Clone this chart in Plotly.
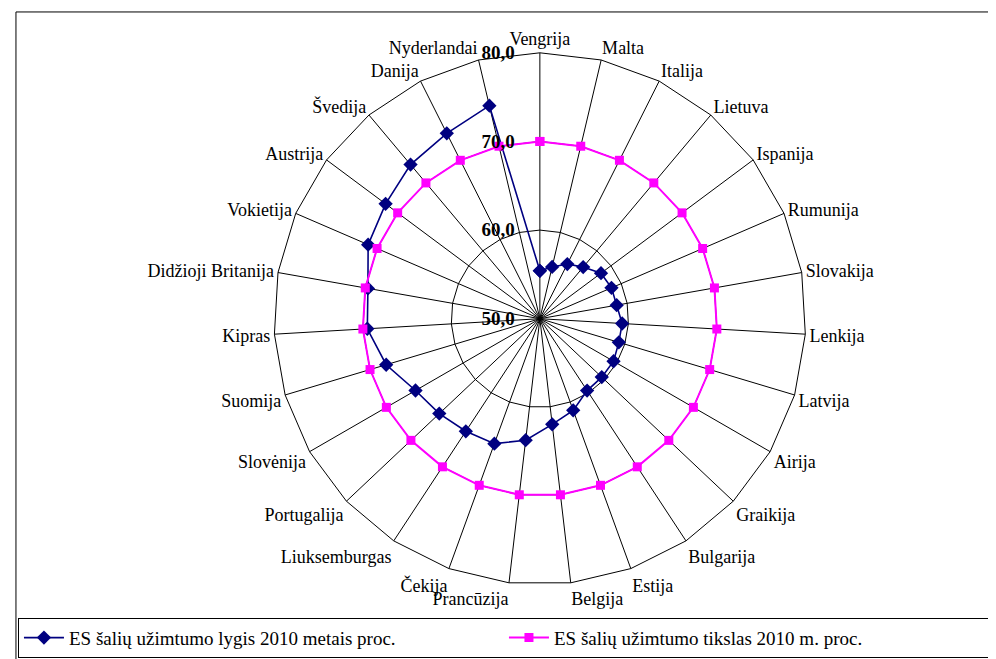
import plotly.graph_objects as go

# countries, clockwise from the top
countries = [
    "Vengrija", "Malta", "Italija", "Lietuva", "Ispanija", "Rumunija", "Slovakija",
    "Lenkija", "Latvija", "Airija", "Graikija", "Bulgarija", "Estija", "Belgija",
    "Prancūzija", "Čekija", "Liuksemburgas", "Portugalija", "Slovėnija", "Suomija",
    "Kipras", "Didžioji Britanija", "Vokietija", "Austrija", "Švedija", "Danija",
    "Nyderlandai",
]

# employment rate 2010, %
lygis_2010 = [
    55.4, 56.0, 56.9, 57.6, 58.6, 58.8, 58.8, 59.3, 59.3, 59.6, 59.6, 59.7, 61.0,
    62.0, 63.8, 65.0, 65.2, 65.6, 66.2, 68.1, 69.5, 69.7, 71.1, 71.7, 72.7, 73.4,
    74.7,
]

# employment target 2010, %
tikslas_2010 = [70.0] * len(countries)

radial_ticks = [50, 60, 70, 80]
radial_labels = ["50,0", "60,0", "70,0", "80,0"]

serif = "Liberation Serif"

fig = go.Figure()

# close the loops by repeating the first country
fig.add_trace(go.Scatterpolar(
    r=lygis_2010 + lygis_2010[:1],
    theta=countries + countries[:1],
    mode="lines+markers",
    name="ES šalių užimtumo lygis 2010 metais proc.",
    line=dict(color="#000080", width=1.6),
    marker=dict(symbol="diamond", size=11, color="#000080"),
))
fig.add_trace(go.Scatterpolar(
    r=tikslas_2010 + tikslas_2010[:1],
    theta=countries + countries[:1],
    mode="lines+markers",
    name="ES šalių užimtumo tikslas 2010 m. proc.",
    line=dict(color="#FF00FF", width=2),
    marker=dict(symbol="square", size=9, color="#FF00FF"),
))

fig.update_layout(
    width=996,
    height=659,
    margin=dict(l=0, r=0, t=0, b=0),
    paper_bgcolor="white",
    font=dict(family=serif, size=19, color="black"),
    polar=dict(
        domain=dict(x=[0.267, 0.801], y=[0.125, 0.932]),
        bgcolor="white",
        gridshape="linear",
        radialaxis=dict(
            range=[50, 80],
            angle=90,
            tickangle=90,
            side="counterclockwise",
            tickvals=radial_ticks,
            ticktext=["<b>" + t + "</b>" for t in radial_labels],
            tickfont=dict(family=serif, size=19, color="black"),
            showline=False,
            ticks="outside",
            ticklen=18,
            tickcolor="rgba(0,0,0,0)",
            gridcolor="black",
            gridwidth=1,
        ),
        angularaxis=dict(
            direction="clockwise",
            rotation=90,
            categoryorder="array",
            categoryarray=countries,
            tickfont=dict(family=serif, size=18, color="black"),
            showline=True,
            linecolor="black",
            linewidth=1,
            gridcolor="black",
            gridwidth=1,
            ticks="",
        ),
    ),
    showlegend=True,
    legend=dict(
        orientation="h",
        x=0.01,
        y=0.014,
        xanchor="left",
        yanchor="bottom",
        bordercolor="black",
        borderwidth=1,
        bgcolor="white",
        font=dict(family=serif, size=19, color="black"),
        itemwidth=40,
        entrywidth=430,
        tracegroupgap=0,
    ),
    shapes=[dict(
        type="rect", xref="paper", yref="paper",
        x0=0.008, x1=0.998, y0=-0.01, y1=0.994,
        line=dict(color="black", width=1),
    )],
)

fig.write_html("out.html")
